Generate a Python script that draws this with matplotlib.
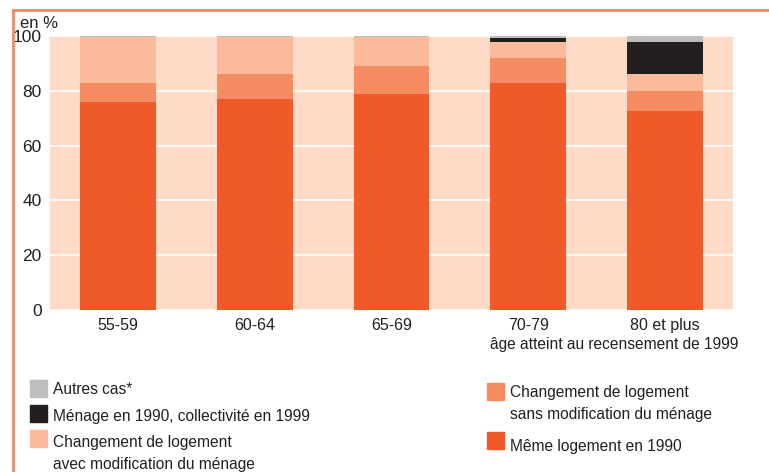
import matplotlib.pyplot as plt
from matplotlib.patches import Rectangle
from matplotlib.lines import Line2D
from matplotlib import font_manager
import numpy as np

# Ages atteints au recensement de 1999 et répartition (en %)
groupes = ["55-59", "60-64", "65-69", "70-79", "80 et plus"]
meme_logement = [76.0, 77.0, 79.0, 82.8, 72.6]
sans_modif = [7.0, 9.0, 10.0, 9.2, 7.3]
avec_modif = [16.5, 13.5, 10.5, 5.8, 6.2]
collectivite = [0.3, 0.3, 0.3, 1.5, 11.7]
autres = [0.2, 0.2, 0.2, 0.7, 2.2]

series = [meme_logement, sans_modif, avec_modif, collectivite, autres]
couleurs = ['#F05A28', '#F68D62', '#FBBB9A', '#231F20', '#BCBEC0']

# Police étroite si disponible
noms = {f.name for f in font_manager.fontManager.ttflist}
police = 'Liberation Sans Narrow' if 'Liberation Sans Narrow' in noms else 'Liberation Sans'
plt.rcParams['font.family'] = [police, 'DejaVu Sans']

fig = plt.figure(figsize=(7.69, 4.72), dpi=100)
ax = fig.add_axes([50 / 769, 1 - 310 / 472, 683 / 769, 274 / 472])
ax.set_facecolor('#FDDBC7')

x = np.arange(len(groupes))
bas = np.zeros(len(groupes))
for vals, c in zip(series, couleurs):
    ax.bar(x, vals, bottom=bas, width=0.555, color=c, zorder=3)
    bas += np.array(vals)

ax.set_xlim(-0.5, 4.5)
ax.set_ylim(0, 100)
ax.set_yticks([0, 20, 40, 60, 80, 100])
ax.yaxis.grid(True, color='white', linewidth=1.2, zorder=1)
ax.set_xticks(x)
ax.set_xticklabels(groupes)
ax.tick_params(length=0, colors='#231F20')
ax.tick_params(axis='x', pad=6, labelsize=11.5)
ax.tick_params(axis='y', pad=6, labelsize=12.5)
for s in ax.spines.values():
    s.set_visible(False)

fig.text(20 / 769, 1 - 23 / 472, "en %", fontsize=12, va='center', color='#231F20')
fig.text(738 / 769, 1 - 345 / 472, "âge atteint au recensement de 1999",
         fontsize=11.2, ha='right', va='center', color='#231F20')

# Cadre orange
bord = '#F4896A'
fig.add_artist(Line2D([13 / 769, 1], [1 - 10 / 472, 1 - 10 / 472], color=bord, lw=2,
                      transform=fig.transFigure))
fig.add_artist(Line2D([13 / 769, 13 / 769], [1 - 10 / 472, 0], color=bord, lw=2,
                      transform=fig.transFigure))

# Légende
def carre(px, py, c):
    fig.add_artist(Rectangle((px / 769, 1 - (py + 17) / 472), 17 / 769, 17 / 472,
                             color=c, transform=fig.transFigure))

def texte(px, py, s):
    fig.text(px / 769, 1 - py / 472, s, fontsize=11.2, va='center', color='#231F20')

carre(30, 380, couleurs[4]); texte(53, 390, "Autres cas*")
carre(30, 405, couleurs[3]); texte(53, 416, "Ménage en 1990, collectivité en 1999")
carre(30, 430, couleurs[2]); texte(53, 442, "Changement de logement")
texte(53, 464, "avec modification du ménage")
carre(487, 383, couleurs[1]); texte(510, 393, "Changement de logement")
texte(510, 415, "sans modification du ménage")
carre(487, 432, couleurs[0]); texte(510, 447, "Même logement en 1990")

fig.savefig('out.png', dpi=100)
